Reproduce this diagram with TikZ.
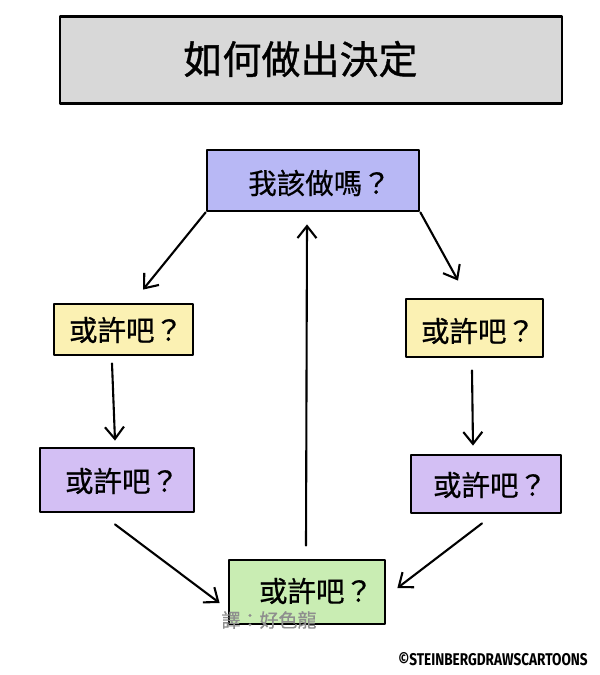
\documentclass[tikz,border=0pt]{standalone}
\usepackage{fontspec}
\setmainfont{Noto Sans CJK TC}
\newfontfamily\titlefont{Noto Sans CJK TC}[FakeBold=0.9]
\newfontfamily\boxfont{Noto Sans CJK TC}[FakeBold=0.6]
\newfontfamily\transfont{Noto Sans CJK TC}[FakeBold=0.5]
\newfontfamily\credfont{Fira Sans}
\usetikzlibrary{arrows.meta,calc}
\definecolor{titlegray}{HTML}{D8D8D8}
\definecolor{topblue}{HTML}{B8B8F5}
\definecolor{boxyellow}{HTML}{FBF1B3}
\definecolor{boxpurple}{HTML}{D3BFF4}
\definecolor{boxgreen}{HTML}{C9EDB3}
\definecolor{transgray}{HTML}{8E8E8E}
\begin{document}
\begin{tikzpicture}[x=1pt,y=-1pt,
  box/.style={draw=black, line width=2.8pt, line join=round, inner sep=0pt},
  boxtext/.style={inner sep=0pt, font=\boxfont\fontsize{28.5}{30}\selectfont},
  titletext/.style={inner sep=0pt, font=\titlefont\fontsize{39}{41}\selectfont},
  arr/.style={line width=2.1pt, line cap=round, -{Straight Barb[length=12pt,width=19pt,line width=2.1pt]}}
]
\fill[white] (0,0) rectangle (600,675);
\useasboundingbox (0,0) rectangle (600,675);

% title
\node[box, fill=titlegray, minimum width=502pt, minimum height=87pt] (tb) at (311,60) {};
\node[titletext] (tt) at (300.5,59) {如何做出決定};

% boxes
\node[box, fill=topblue, minimum width=212pt, minimum height=61pt] (top) at (313,180.5) {};
\node[boxtext] (topt) at (319.5,183) {我該做嗎？};

\node[box, fill=boxyellow, minimum width=139pt, minimum height=51pt] (ly) at (123.5,329.5) {};
\node[boxtext] (lyt) at (126,330) {或許吧？};

\node[box, fill=boxyellow, minimum width=137pt, minimum height=58pt] (ry) at (474.5,328) {};
\node[boxtext] (ryt) at (478,331) {或許吧？};

\node[box, fill=boxpurple, minimum width=154pt, minimum height=64pt] (lp) at (117,480) {};
\node[boxtext] (lpt) at (122,481) {或許吧？};

\node[box, fill=boxpurple, minimum width=150pt, minimum height=58pt] (rp) at (486,484) {};
\node[boxtext] (rpt) at (490,485) {或許吧？};

\node[box, fill=boxgreen, minimum width=156pt, minimum height=64pt] (g) at (307,592) {};
\node[boxtext] (gt) at (316,591) {或許吧？};

% connectors
\draw[arr] (top.south west) -- ($(ly.north)+(19.5,-13)$);
\draw[arr] (top.south east) -- ($(ry.north)+(-16.5,-17)$);
\draw[arr] ($(ly.south)+(-11.5,7)$) -- ($(lp.north)+(-2,-6)$);
\draw[arr] ($(ry.south)+(-2.5,12)$) -- ($(rp.north)+(-13,-8)$);
\draw[arr] ($(lp.south)+(-2,11)$) -- ($(g.west)+(-8,11)$);
\draw[arr] ($(rp.south)+(-4,9)$) -- ($(g.east)+(11,-4)$);
\draw[arr] ($(g.north)+(-1,-13)$) -- ($(top.south)+(-6,12)$);

% credits
\node[inner sep=0pt, text=transgray, font=\transfont\fontsize{19}{20}\selectfont] (trans) at (269,620) {譯：好色龍};
\node[inner sep=0pt, font=\credfont\bfseries\fontsize{17}{18}\selectfont, xscale=0.8] (cred) at (493,659) {©STEINBERGDRAWSCARTOONS};
\end{tikzpicture}
\end{document}
